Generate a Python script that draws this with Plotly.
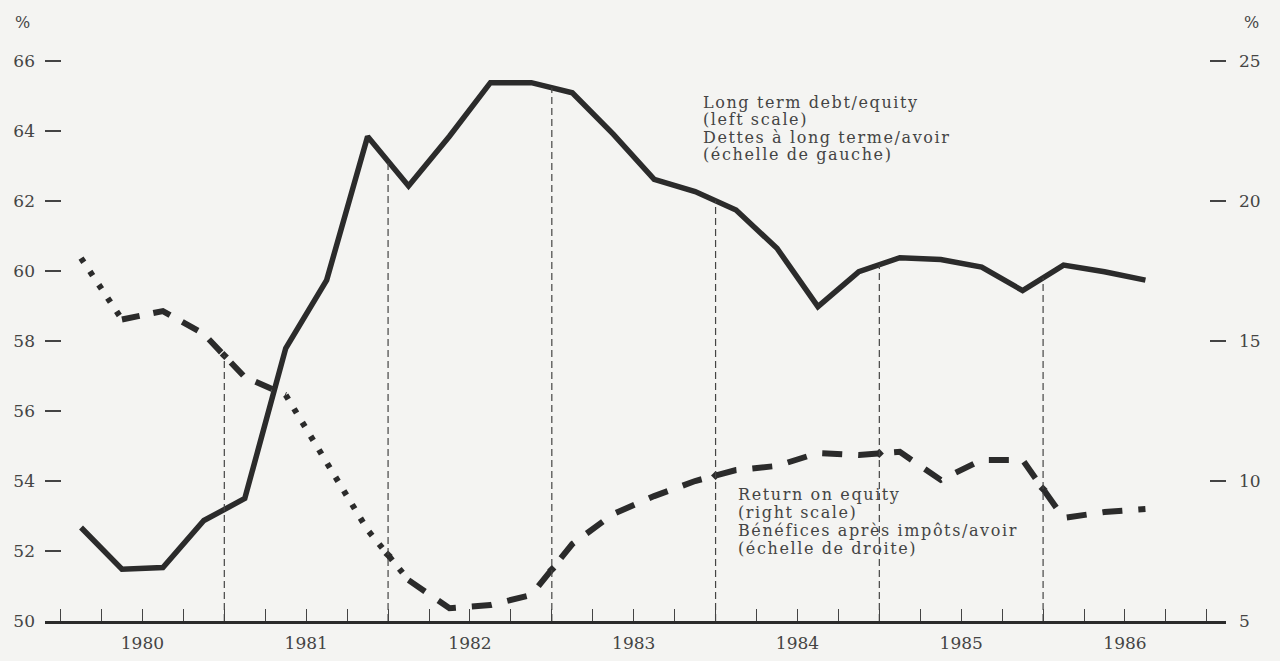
import numpy as np
import plotly.graph_objects as go

# ---------------- data ----------------
periods = ["1980Q1", "1980Q2", "1980Q3", "1980Q4",
           "1981Q1", "1981Q2", "1981Q3", "1981Q4",
           "1982Q1", "1982Q2", "1982Q3", "1982Q4",
           "1983Q1", "1983Q2", "1983Q3", "1983Q4",
           "1984Q1", "1984Q2", "1984Q3", "1984Q4",
           "1985Q1", "1985Q2", "1985Q3", "1985Q4",
           "1986Q1", "1986Q2", "1986Q3"]

debt_equity = [52.67, 51.48, 51.53, 52.87,
               53.50, 57.79, 59.74, 63.84,
               62.43, 63.85, 65.38, 65.38,
               65.09, 63.91, 62.62, 62.27,
               61.74, 60.65, 58.98, 59.98,
               60.38, 60.33, 60.11, 59.44,
               60.17, 59.98, 59.74]

return_on_equity = [17.96, 15.77, 16.07, 15.25,
                    13.71, 13.07, 10.64, 8.25,
                    6.46, 5.46, 5.57, 5.93,
                    7.75, 8.82, 9.46, 10.00,
                    10.39, 10.54, 11.00, 10.93,
                    11.04, 10.04, 10.75, 10.75,
                    8.68, 8.89, 9.00]

year_labels = ["1980", "1981", "1982", "1983", "1984", "1985", "1986"]
year_ends = [1981, 1982, 1983, 1984, 1985, 1986]
left_ticks = [50, 52, 54, 56, 58, 60, 62, 64, 66]
right_ticks = [5, 10, 15, 20, 25]

debt_text = ["Long term debt/equity", "(left scale)",
             "Dettes à long terme/avoir", "(échelle de gauche)"]
roe_text = ["Return on equity", "(right scale)",
            "Bénéfices après impôts/avoir", "(échelle de droite)"]

# ---------------- derived ----------------
t = np.array([int(p[:4]) + (int(p[-1]) - 0.5) / 4 for p in periods])
debt = np.array(debt_equity)
roe = np.array(return_on_equity)

LEFT_RANGE = [50, 67]
RIGHT_RANGE = [5, 26.25]
scale = (RIGHT_RANGE[1] - RIGHT_RANGE[0]) / (LEFT_RANGE[1] - LEFT_RANGE[0])


def roe_to_left(v):
    return LEFT_RANGE[0] + (np.asarray(v) - RIGHT_RANGE[0]) / scale


ye = np.array(year_ends, dtype=float)
debt_ye = np.interp(ye, t, debt)
roe_ye = np.interp(ye, t, roe)
drop_top = np.maximum(debt_ye, roe_to_left(roe_ye))

drop_x, drop_y = [], []
for xv, top in zip(ye, drop_top):
    drop_x += [xv, xv, None]
    drop_y += [LEFT_RANGE[0], top, None]

INK = "#2b2b2b"
TXT = "#444444"
BG = "#f4f4f2"
FONT = "DejaVu Serif"

fig = go.Figure()

# drop lines at year ends
fig.add_trace(go.Scatter(x=drop_x, y=drop_y, mode="lines", xaxis="x2", yaxis="y",
                         line=dict(color="#444", width=1.2, dash="7px,4px"),
                         hoverinfo="skip", showlegend=False))

# debt / equity (left scale)
fig.add_trace(go.Scatter(x=t, y=debt, mode="lines", yaxis="y",
                         line=dict(color=INK, width=5.5), showlegend=False,
                         name="Long term debt/equity"))

# return on equity (right scale): segments in dotted / dashed style
segments = [(0, 1, "5px,11px"), (1, 5, "18px,14px"), (5, 8, "5px,11px"),
            (8, 26, "20px,16px")]
for a, b, d in segments:
    fig.add_trace(go.Scatter(x=t[a:b + 1], y=roe[a:b + 1], mode="lines", yaxis="y2",
                             line=dict(color=INK, width=6, dash=d),
                             showlegend=False, name="Return on equity"))

fig.add_trace(go.Scatter(x=ye, y=roe_ye, mode="markers", yaxis="y2",
                         marker=dict(symbol="diamond", size=7, color=INK),
                         hoverinfo="skip", showlegend=False))

X_RANGE = [1979.905, 1987.117]
quarter_ticks = list(np.arange(1980, 1987.001, 0.25))
year_mids = [int(y) + 0.5 for y in year_labels]

ML, MR, MT, MB = 45, 54, 26, 40
W, H = 1280, 661
PW, PH = W - ML - MR, H - MT - MB


def fx(px):
    return (px - ML) / PW


def fy(py):
    return (H - MB - py) / PH


annotations = [
    dict(text="%", x=fx(22), y=fy(22), xref="paper", yref="paper",
         showarrow=False, xanchor="center", yanchor="middle",
         font=dict(family=FONT, size=16, color=TXT)),
    dict(text="%", x=fx(1251), y=fy(22), xref="paper", yref="paper",
         showarrow=False, xanchor="center", yanchor="middle",
         font=dict(family=FONT, size=16, color=TXT)),
]
for i, line in enumerate(debt_text):
    annotations.append(dict(text=line, x=fx(701), y=fy(102 + 17.5 * i),
                            xref="paper", yref="paper", showarrow=False,
                            xanchor="left", yanchor="middle",
                            font=dict(family=FONT, size=16, color=TXT)))
for i, line in enumerate(roe_text):
    annotations.append(dict(text=line, x=fx(736), y=fy(494 + 18 * i),
                            xref="paper", yref="paper", showarrow=False,
                            xanchor="left", yanchor="middle",
                            font=dict(family=FONT, size=16, color=TXT)))

fig.update_layout(
    width=W, height=H,
    margin=dict(l=ML, r=MR, t=MT, b=MB, pad=0, autoexpand=False),
    paper_bgcolor=BG, plot_bgcolor=BG,
    font=dict(family=FONT, color=TXT),
    xaxis=dict(range=X_RANGE, showgrid=False, zeroline=False, automargin=False,
               showline=True, linecolor=INK, linewidth=3,
               ticks="inside", tickvals=quarter_ticks, ticklen=12,
               tickwidth=1.3, tickcolor="#444", showticklabels=False),
    xaxis2=dict(range=X_RANGE, overlaying="x", anchor="y", side="bottom",
                automargin=False,
                showgrid=False, zeroline=False, showline=False, ticks="",
                tickvals=year_mids, ticktext=year_labels,
                tickfont=dict(family=FONT, size=17, color=TXT),
                ticklabelstandoff=10),
    yaxis=dict(range=LEFT_RANGE, showgrid=False, zeroline=False, showline=False,
               automargin=False,
               ticks="inside", tickvals=left_ticks, ticklen=16, tickwidth=1.5,
               tickcolor="#444", tickfont=dict(family=FONT, size=17, color=TXT),
               ticklabelstandoff=9),
    yaxis2=dict(range=RIGHT_RANGE, overlaying="y", side="right", anchor="x",
                automargin=False,
                showgrid=False, zeroline=False, showline=False,
                ticks="inside", tickvals=right_ticks, ticklen=16, tickwidth=1.5,
                tickcolor="#444", tickfont=dict(family=FONT, size=17, color=TXT),
                ticklabelstandoff=12),
    annotations=annotations,
    showlegend=False,
)

post = """
var de = document.documentElement, bd = document.body;
[de, bd].forEach(function(el){
  el.style.margin = '0'; el.style.padding = '0';
  el.style.overflow = 'hidden'; el.style.height = '661px'; el.style.width = '1280px';
});
var gd = document.getElementById('{plot_id}');
if (gd.parentElement) {
  gd.parentElement.style.height = '661px';
  gd.parentElement.style.overflow = 'hidden';
}
function spaceText(){
  gd.querySelectorAll('.annotation-text').forEach(function(e){
    if (e.textContent.length > 3 && !e.getAttribute('data-spaced')) {
      var b = e.getBBox();
      e.style.letterSpacing = '1.6px';
      e.setAttribute('text-anchor', 'start');
      e.style.textAnchor = 'start';
      e.setAttribute('x', b.x);
      e.querySelectorAll('tspan').forEach(function(s){
        if (s.hasAttribute('x')) { s.setAttribute('x', b.x); }
      });
      e.setAttribute('data-spaced', '1');
    }
  });
}
try { spaceText(); } catch (err) {}
if (gd.on) { gd.on('plotly_afterplot', function(){ try { spaceText(); } catch (err) {} }); }
setTimeout(function(){ try { spaceText(); } catch (err) {} }, 30);
"""

fig.write_html("out.html", config={"displayModeBar": False}, post_script=post)
